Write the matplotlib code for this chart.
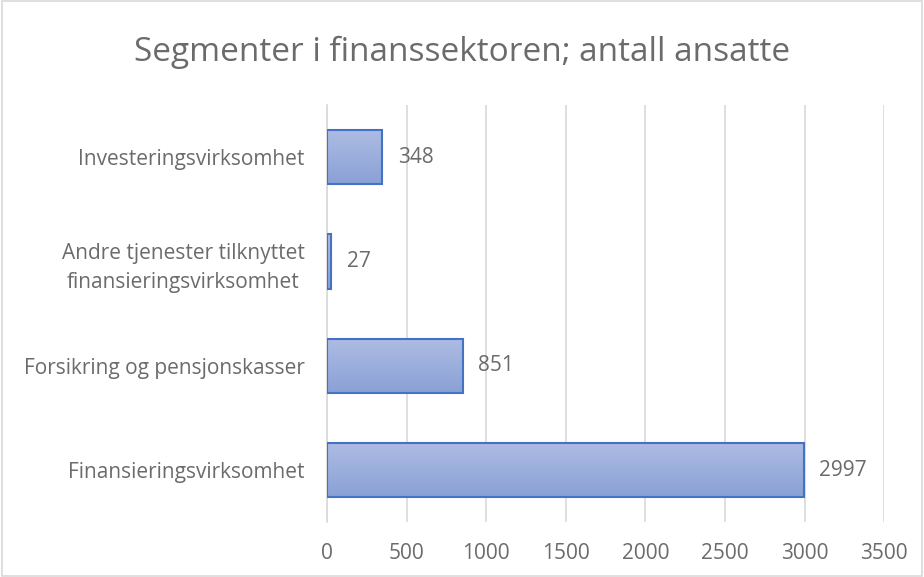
import numpy as np
import matplotlib.pyplot as plt
from matplotlib.patches import Rectangle
from matplotlib.colors import LinearSegmentedColormap

categories = ["Finansieringsvirksomhet", "Forsikring og pensjonskasser",
              "Andre tjenester tilknyttet\nfinansieringsvirksomhet", "Investeringsvirksomhet"]
values = [2997, 851, 27, 348]
xticks = [0, 500, 1000, 1500, 2000, 2500, 3000, 3500]

grey = "#6b6b6b"
plt.rcParams["font.family"] = ["Open Sans", "DejaVu Sans"]

fig = plt.figure(figsize=(9.24, 5.77), dpi=100)
ax = fig.add_axes([0.354, 0.095, 0.603, 0.723])

y = np.arange(len(categories))
bars = ax.barh(y, values, height=0.52, color="none", edgecolor="#4472c4", linewidth=1.5, zorder=3)

# vertical gradient fill for each bar, lighter on top
grad = np.linspace(0, 1, 100).reshape(-1, 1)
cmap = LinearSegmentedColormap.from_list("g", ["#8aa1d6", "#adbce3"])
for b in bars:
    x0, y0 = b.get_x(), b.get_y()
    w, h = b.get_width(), b.get_height()
    im = ax.imshow(grad, extent=[x0, x0 + w, y0, y0 + h], origin="lower",
                   cmap=cmap, aspect="auto", zorder=2)
    im.set_clip_path(b)

for b, v in zip(bars, values):
    ax.annotate(str(v), (b.get_width(), b.get_y() + b.get_height() / 2),
                xytext=(11, 0), textcoords="offset points", va="center", ha="left",
                color=grey, fontsize=15)

ax.set_xlim(0, 3500)
ax.set_ylim(-0.5, 3.5)
ax.set_xticks(xticks)
ax.set_yticks(y)
ax.set_yticklabels(categories, multialignment="center", linespacing=1.5)
ax.tick_params(length=0, colors=grey, labelsize=15)
ax.tick_params(axis="y", pad=16)
ax.tick_params(axis="x", pad=15)
ax.grid(axis="x", color="#d9d9d9", linewidth=1.2, zorder=0)
for s in ["top", "right", "bottom"]:
    ax.spines[s].set_visible(False)
ax.spines["left"].set_color("#d9d9d9")
ax.spines["left"].set_linewidth(1.2)

fig.text(0.5, 0.91, "Segmenter i finanssektoren; antall ansatte", ha="center", va="center",
         fontsize=24, color=grey)

fig.patches.append(Rectangle((0.002, 0.002), 0.996, 0.996, transform=fig.transFigure,
                             fill=False, edgecolor="#d9d9d9", linewidth=1.2))

fig.savefig("out.png", dpi=100)
